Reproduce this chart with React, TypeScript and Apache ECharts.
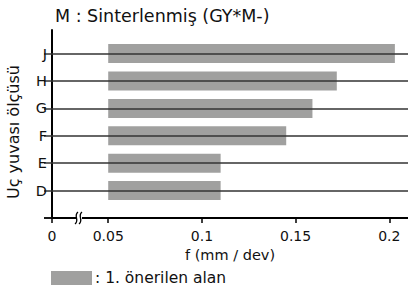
import React, { useEffect, useRef } from "react";
import * as echarts from "echarts";

const categories = ["D", "E", "F", "G", "H", "J"];
const barStart = [0.05, 0.05, 0.05, 0.05, 0.05, 0.05];
const barEnd = [0.11, 0.11, 0.145, 0.159, 0.172, 0.203];
const xTickValues = [0.02, 0.05, 0.1, 0.15, 0.2];
const xTickLabels = ["0", "0.05", "0.1", "0.15", "0.2"];
const titleText = "M : Sinterlenmiş (GY*M-)";
const yName = "Uç yuvası ölçüsü";
const xName = "f (mm / dev)";
const seriesName = ": 1. önerilen alan";

const FONT = "DejaVu Sans";

export default function App() {
  const ref = useRef<HTMLDivElement>(null);
  useEffect(() => {
    if (!ref.current) return;
    const chart = echarts.init(ref.current, null, { renderer: "svg" });
    const data = categories.map((c, i) => [barStart[i], barEnd[i], i + 1]);
    const gy = 218;
    const bx = 79;
    chart.setOption({
      animation: false,
      textStyle: { fontFamily: FONT },
      title: {
        text: titleText,
        left: 50,
        top: 2,
        textStyle: { fontFamily: FONT, fontSize: 17.5, fontWeight: "normal", color: "#111" },
      },
      legend: {
        data: [seriesName],
        left: 51,
        top: 270,
        padding: 0,
        icon: "rect",
        itemWidth: 41,
        itemHeight: 14,
        textStyle: { fontFamily: FONT, fontSize: 15.5, color: "#111", padding: [0, 0, 0, -2] },
      },
      grid: { left: 52, right: 0, top: 30, bottom: 75, containLabel: false },
      xAxis: {
        type: "value",
        min: 0.02,
        max: 0.21,
        name: xName,
        nameLocation: "middle",
        nameGap: 26,
        nameTextStyle: { fontFamily: FONT, fontSize: 14.5, color: "#111" },
        axisLine: { show: true, lineStyle: { color: "#000", width: 2 } },
        axisTick: { show: true, length: 5, customValues: xTickValues, lineStyle: { color: "#000", width: 1.5 } },
        axisLabel: {
          customValues: xTickValues,
          margin: 11,
          fontFamily: FONT,
          fontSize: 14,
          color: "#111",
          formatter: (v: number) => {
            const idx = xTickValues.findIndex((t) => Math.abs(t - v) < 1e-9);
            return idx >= 0 ? xTickLabels[idx] : "";
          },
        },
        splitLine: { show: false },
      },
      yAxis: {
        type: "value",
        min: 0,
        max: 6.86,
        axisLine: { show: true, onZero: false, lineStyle: { color: "#000", width: 2 } },
        axisTick: { show: true, length: 8, customValues: [0, 1, 2, 3, 4, 5, 6], lineStyle: { color: "#333", width: 1.5 } },
        axisLabel: {
          customValues: [1, 2, 3, 4, 5, 6],
          margin: 5,
          fontFamily: FONT,
          fontSize: 14.5,
          color: "#111",
          formatter: (v: number) => categories[Math.round(v) - 1] ?? "",
        },
        splitLine: { show: false },
      },
      series: [
        {
          type: "line",
          name: "grid",
          data: [],
          silent: true,
          markLine: {
            silent: true,
            symbol: "none",
            label: { show: false },
            lineStyle: { color: "#333", width: 1.5, type: "solid" },
            data: categories.map((c, i) => ({ yAxis: i + 1 })),
          },
        },
        {
          type: "custom",
          name: seriesName,
          itemStyle: { color: "#a0a09f" },
          encode: { x: [0, 1], y: 2 },
          data,
          z: 3,
          renderItem: (params: any, api: any) => {
            const s = api.coord([api.value(0), api.value(2)]);
            const e = api.coord([api.value(1), api.value(2)]);
            const h = 19;
            return {
              type: "rect",
              shape: { x: s[0], y: s[1] - h / 2, width: e[0] - s[0], height: h },
              style: { fill: "#a0a09f" },
            };
          },
        },
      ],
      graphic: [
        {
          type: "rect",
          shape: { x: 44, y: gy - 0.75, width: 8, height: 1.5 },
          style: { fill: "#000" },
          z: 10,
        },
        {
          type: "rect",
          shape: { x: bx - 3, y: gy - 2, width: 6, height: 4 },
          style: { fill: "#fff" },
          z: 10,
        },
        {
          type: "bezierCurve",
          shape: { x1: bx - 4, y1: gy + 6, cpx1: bx + 1, cpy1: gy + 2, cpx2: bx - 6, cpy2: gy - 2, x2: bx - 1, y2: gy - 6 },
          style: { stroke: "#000", lineWidth: 1.3, fill: null },
          z: 11,
        },
        {
          type: "bezierCurve",
          shape: { x1: bx, y1: gy + 6, cpx1: bx + 5, cpy1: gy + 2, cpx2: bx - 2, cpy2: gy - 2, x2: bx + 3, y2: gy - 6 },
          style: { stroke: "#000", lineWidth: 1.3, fill: null },
          z: 11,
        },
        {
          type: "text",
          x: 13,
          y: 132,
          rotation: Math.PI / 2,
          style: {
            text: yName,
            fontFamily: FONT,
            fontSize: 16,
            fill: "#111",
            align: "center",
            verticalAlign: "middle",
          },
        },
      ],
    });
    return () => chart.dispose();
  }, []);
  return <div ref={ref} style={{ width: 408, height: 293, position: "absolute", left: 0, top: 0 }} />;
}
